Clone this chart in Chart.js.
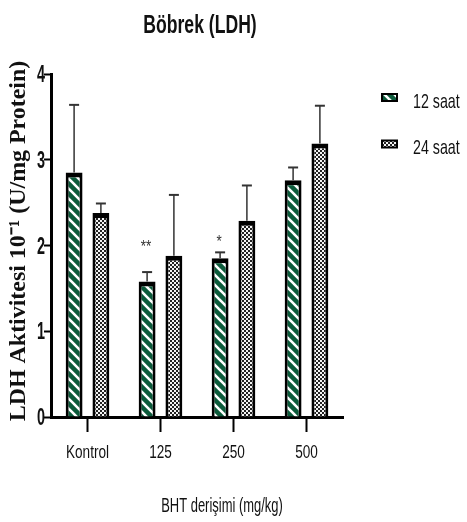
<!DOCTYPE html>
<html>
<head>
<meta charset="utf-8">
<script src="https://cdn.jsdelivr.net/npm/chart.js@4.4.1/dist/chart.umd.min.js"></script>
<style>
  html, body { margin: 0; padding: 0; background: #fff; }
  #wrap { width: 467px; height: 522px; position: relative; }
</style>
</head>
<body>
<div id="wrap"><canvas id="grafico"></canvas></div>
<script>
// ---- Datos ----
const dozlar = ['Kontrol', '125', '250', '500'];
const seriler = ['12 saat', '24 saat'];
const ort12 = [2.85, 1.58, 1.85, 2.76];
const sd12 = [0.79, 0.11, 0.07, 0.15];
const ort24 = [2.38, 1.88, 2.29, 3.19];
const sd24 = [0.11, 0.71, 0.41, 0.44];
const anlamlilik12 = ['', '**', '*', ''];
const yTikler = [0, 1, 2, 3, 4];
const baslik = 'Böbrek (LDH)';
const xBaslik = 'BHT derişimi (mg/kg)';
const yBaslik = 'LDH Aktivitesi 10⁻¹ (U/mg Protein)';

const sans = "'Liberation Sans', Arial, sans-serif";
const serif = "'Liberation Serif', 'Times New Roman', serif";

// dar (narrow) yazı: Arial Narrow yok, yatayda sıkıştırıyoruz
function yaz(ctx, txt, x, y, o) {
    ctx.save();
    ctx.translate(x, y);
    if (o.rot) ctx.rotate(o.rot);
    ctx.scale(o.sx || 1, o.sy || 1);
    ctx.font = (o.bold ? 'bold ' : '') + o.size + 'px ' + (o.family || sans);
    ctx.fillStyle = o.color || '#111';
    ctx.textAlign = o.align || 'center';
    ctx.textBaseline = o.baseline || 'alphabetic';
    ctx.fillText(txt, 0, 0);
    ctx.restore();
}

// ---- Desenler ----
function cizgiliDesen() {
    const c = document.createElement('canvas');
    c.width = 10; c.height = 10;
    const g = c.getContext('2d');
    g.fillStyle = '#0b5a3a';
    g.fillRect(0, 0, 10, 10);
    g.strokeStyle = '#ffffff';
    g.lineWidth = 2.6;
    for (let k = -1; k <= 1; k++) {
        g.beginPath();
        g.moveTo(k * 10 - 1, -1);
        g.lineTo(k * 10 + 11, 11);
        g.stroke();
    }
    return g.createPattern(c, 'repeat');
}
function damaliDesen() {
    const c = document.createElement('canvas');
    c.width = 4; c.height = 4;
    const g = c.getContext('2d');
    g.fillStyle = '#222';
    g.fillRect(0, 0, 4, 4);
    g.fillStyle = '#f4f4f4';
    g.fillRect(0, 0, 2, 2);
    g.fillRect(2, 2, 2, 2);
    return g.createPattern(c, 'repeat');
}
const desen12 = cizgiliDesen();
const desen24 = damaliDesen();

// hata çubukları + yıldızlar
const hataCubugu = {
    id: 'hataCubugu',
    afterDatasetsDraw(chart) {
        const ctx = chart.ctx;
        const y = chart.scales.y;
        const sdler = [sd12, sd24];
        ctx.save();
        chart.data.datasets.forEach((ds, i) => {
            const meta = chart.getDatasetMeta(i);
            meta.data.forEach((bar, j) => {
                const ust = y.getPixelForValue(ds.data[j] + sdler[i][j]);
                ctx.strokeStyle = '#333';
                ctx.lineWidth = 1.5;
                ctx.beginPath();
                ctx.moveTo(bar.x, bar.y);
                ctx.lineTo(bar.x, ust);
                ctx.stroke();
                ctx.lineWidth = 2;
                ctx.beginPath();
                ctx.moveTo(bar.x - 5, ust);
                ctx.lineTo(bar.x + 5, ust);
                ctx.stroke();
                if (i === 0 && anlamlilik12[j]) {
                    const dy = anlamlilik12[j] === '**' ? 20 : 5;
                    yaz(ctx, anlamlilik12[j], bar.x - 1, ust - dy, { size: 15, sx: 0.9, sy: 1.1, color: '#333' });
                }
            });
        });
        ctx.restore();
    }
};

// başlıklar, tik etiketleri, lejant
const yazilar = {
    id: 'yazilar',
    afterDraw(chart) {
        const ctx = chart.ctx;
        const x = chart.scales.x, y = chart.scales.y;
        yaz(ctx, baslik, 200, 33, { size: 22, bold: true, sx: 0.8, sy: 1.15 });
        yTikler.forEach(v => {
            yaz(ctx, String(v), 45, y.getPixelForValue(v) + 8, { size: 20, bold: true, sx: 0.72, sy: 1.15, align: 'right' });
        });
        dozlar.forEach((d, i) => {
            yaz(ctx, d, x.getPixelForTick(i), 458, { size: 16, sx: 0.85, sy: 1.15 });
        });
        yaz(ctx, xBaslik, 222, 512, { size: 18, sx: 0.72, sy: 1.15 });
        yaz(ctx, yBaslik, 19, 241, { size: 23, bold: true, family: serif, rot: -Math.PI / 2, baseline: 'middle', sx: 1.04 });

        const desenler = [desen12, desen24];
        const ys = [97.5, 144];
        seriler.forEach((ad, i) => {
            ctx.fillStyle = '#000';
            ctx.fillRect(381, ys[i] - 4.5, 17, 9);
            ctx.fillStyle = desenler[i];
            ctx.fillRect(383, ys[i] - 2.5, 13, 5);
            yaz(ctx, ad, 413, ys[i] + 10, { size: 19, sx: 0.75, sy: 1.1, align: 'left' });
        });
    }
};

new Chart(document.getElementById('grafico'), {
    type: 'bar',
    data: {
        labels: dozlar,
        datasets: [
            { label: seriler[0], data: ort12, backgroundColor: desen12, borderColor: '#000',
              borderWidth: { top: 5, left: 3, right: 3, bottom: 0 }, borderSkipped: false,
              categoryPercentage: 0.734, barPercentage: 0.63 },
            { label: seriler[1], data: ort24, backgroundColor: desen24, borderColor: '#000',
              borderWidth: { top: 5, left: 3, right: 3, bottom: 0 }, borderSkipped: false,
              categoryPercentage: 0.734, barPercentage: 0.63 }
        ]
    },
    options: {
        responsive: true,
        maintainAspectRatio: false,
        animation: false,
        layout: { padding: { left: 44, right: 124, top: 74, bottom: 90 } },
        plugins: {
            legend: { display: false },
            tooltip: { enabled: false },
            title: { display: false }
        },
        scales: {
            x: {
                grid: { display: true, drawOnChartArea: false, offset: false, tickLength: 15, tickWidth: 2, tickColor: '#000' },
                border: { display: true, color: '#000', width: 3 },
                ticks: { display: false }
            },
            y: {
                min: 0, max: 4,
                afterBuildTicks(axis) { axis.ticks = yTikler.map(v => ({ value: v })); },
                grid: { display: true, drawOnChartArea: false, tickLength: 7, tickWidth: 2, tickColor: '#000' },
                border: { display: true, color: '#000', width: 3 },
                ticks: { display: false }
            }
        }
    },
    plugins: [hataCubugu, yazilar]
});
</script>
</body>
</html>
